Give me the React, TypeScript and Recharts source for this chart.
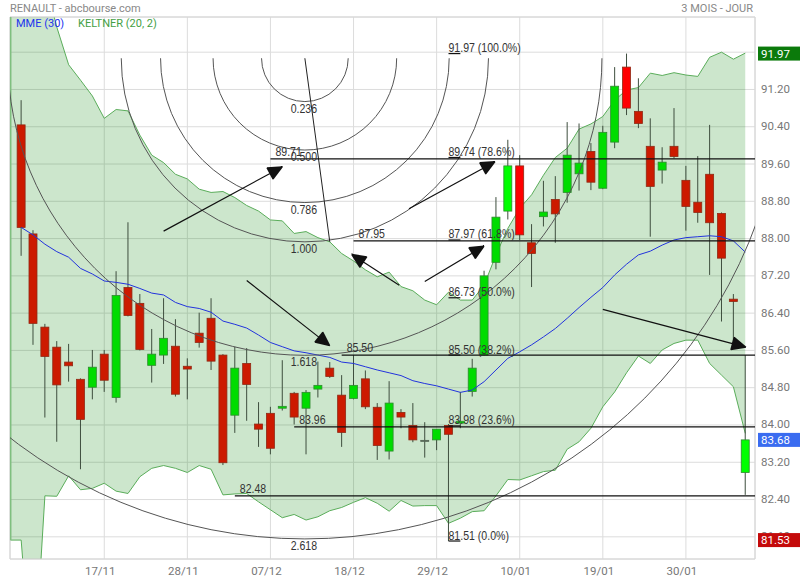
import React from 'react';
import {
  ComposedChart, XAxis, YAxis, CartesianGrid, Bar, Line, Area, Scatter,
  ReferenceLine, ReferenceArea,
} from 'recharts';

// ---------- data ----------
const DATE_TICKS = [7, 14, 21, 28, 35, 42, 49, 56];
const DATE_LABELS = ['17/11', '28/11', '07/12', '18/12', '29/12', '10/01', '19/01', '30/01'];
const PRICE_TICKS = [81.6, 82.4, 83.2, 84.0, 84.8, 85.6, 86.4, 87.2, 88.0, 88.8, 89.6, 90.4, 91.2, 92.0];

const OPEN = [90.44, 88.10, 86.10, 85.67, 85.35, 84.98, 84.81, 85.52, 84.59, 86.95, 86.61, 85.28, 85.50, 85.69, 85.26, 85.97, 86.29, 85.50, 84.21, 85.32, 84.02, 84.25, 84.36, 84.68, 84.36, 84.77, 85.22, 84.64, 84.57, 84.99, 84.38, 83.44, 84.27, 83.99, 83.67, 83.68, 83.99, 84.04, 84.72, 85.50, 87.49, 88.59, 89.56, 87.91, 88.47, 88.84, 88.99, 89.39, 89.87, 89.08, 90.07, 91.68, 90.73, 89.98, 89.47, 89.98, 89.25, 88.78, 89.38, 88.54, 86.70, 82.98];
const HIGH = [90.97, 88.18, 86.17, 85.80, 85.74, 85.00, 85.61, 85.61, 87.30, 88.35, 86.81, 86.06, 86.72, 86.27, 85.43, 86.41, 86.72, 85.52, 85.68, 85.65, 84.49, 84.39, 85.39, 84.71, 84.75, 85.36, 85.35, 85.07, 85.50, 85.17, 84.47, 84.94, 84.34, 84.47, 84.06, 83.91, 84.02, 84.71, 85.42, 87.31, 88.89, 90.12, 89.79, 88.31, 89.24, 89.34, 90.50, 90.47, 90.05, 90.42, 91.68, 91.97, 91.44, 90.58, 89.96, 90.80, 89.56, 89.77, 90.44, 88.56, 86.81, 85.50];
const LOW = [87.63, 85.72, 84.16, 83.64, 84.93, 83.05, 84.55, 84.71, 84.48, 86.33, 85.60, 84.91, 85.31, 84.61, 84.55, 85.66, 85.18, 83.14, 83.83, 84.09, 83.53, 83.37, 84.31, 84.01, 83.37, 84.59, 85.01, 83.53, 84.55, 84.34, 83.25, 83.26, 83.93, 83.63, 83.30, 83.46, 81.51, 83.93, 84.61, 85.49, 87.34, 88.41, 87.97, 86.96, 88.26, 87.91, 88.77, 89.03, 89.04, 89.06, 89.94, 90.65, 90.37, 88.04, 89.18, 89.72, 88.17, 88.34, 87.22, 86.22, 85.65, 82.50];
const CLOSE = [88.24, 86.18, 85.47, 84.86, 85.27, 84.12, 85.24, 84.96, 86.78, 86.35, 85.62, 85.52, 85.86, 84.66, 85.20, 85.77, 85.37, 83.19, 85.22, 84.87, 83.91, 83.50, 84.40, 84.17, 84.70, 84.85, 85.04, 83.84, 84.85, 84.39, 83.56, 84.47, 84.17, 83.68, 83.67, 83.91, 83.80, 84.08, 85.22, 87.20, 88.46, 89.56, 88.08, 87.68, 88.57, 88.53, 89.79, 89.62, 89.21, 90.28, 91.27, 90.80, 90.47, 89.12, 89.64, 89.76, 88.69, 88.56, 88.34, 87.58, 86.65, 83.68];

const EMA30 = [88.24, 88.08, 87.88, 87.72, 87.60, 87.36, 87.24, 87.09, 87.06, 87.02, 86.93, 86.83, 86.79, 86.63, 86.54, 86.50, 86.42, 86.23, 86.16, 86.08, 85.93, 85.77, 85.68, 85.59, 85.55, 85.50, 85.45, 85.35, 85.32, 85.25, 85.18, 85.12, 85.06, 84.95, 84.89, 84.84, 84.77, 84.70, 84.75, 84.93, 85.18, 85.43, 85.57, 85.72, 85.89, 86.07, 86.29, 86.52, 86.74, 86.95, 87.22, 87.45, 87.65, 87.73, 87.86, 87.97, 88.02, 88.04, 88.06, 88.04, 87.95, 87.71];

const KELTNER_UPPER = [95.0, 96.0, 93.55, 92.54, 91.73, 91.40, 91.06, 90.58, 90.77, 90.74, 90.22, 89.79, 89.63, 89.38, 89.28, 89.06, 88.99, 89.01, 88.88, 88.71, 88.59, 88.40, 88.38, 88.11, 88.15, 88.02, 87.93, 87.68, 87.52, 87.33, 87.18, 87.28, 86.97, 86.88, 86.68, 86.58, 86.85, 86.68, 86.68, 87.00, 87.65, 88.22, 88.65, 88.94, 89.36, 89.74, 89.94, 90.35, 90.46, 90.62, 90.97, 91.19, 91.24, 91.55, 91.50, 91.56, 91.51, 91.48, 91.89, 92.00, 91.85, 91.98];
const KELTNER_LOWER = [81.53, 78.31, 82.48, 82.47, 82.91, 82.61, 82.64, 82.75, 82.58, 82.53, 82.89, 83.07, 83.13, 83.07, 82.98, 83.13, 83.05, 82.50, 82.52, 82.53, 82.35, 82.18, 82.01, 82.08, 81.96, 82.03, 82.16, 82.23, 82.34, 82.44, 82.32, 82.15, 82.38, 82.26, 82.27, 82.27, 81.89, 82.00, 82.14, 82.16, 82.48, 82.83, 82.82, 82.91, 83.00, 83.03, 83.48, 83.64, 83.93, 84.39, 84.71, 85.12, 85.48, 85.32, 85.61, 85.75, 85.82, 85.82, 85.32, 85.07, 84.82, 83.82];

// horizontal support / resistance lines: start candle + value
const LEVEL_VALUES = [89.71, 87.95, 85.50, 83.96, 82.48];
const LEVEL_STARTS = [21, 28, 27, 23, 18];

// fibonacci retracement (anchored on candle 36 -> 37)
const FIB_VALUES = [91.97, 89.74, 87.97, 86.73, 85.50, 83.98, 81.51];
const FIB_PCTS = ['100.0%', '78.6%', '61.8%', '50.0%', '38.2%', '23.6%', '0.0%'];
const FIB_FROM = 36;
const FIB_TO = 37;

// fibonacci arcs: centre and reference point
const ARC_CENTER = { x: 23.9, y: 91.87 };
const ARC_END = { x: 26, y: 87.93 };
const ARC_RATIOS = [0.236, 0.5, 0.786, 1.0, 1.618, 2.618];
const ARC_LABELS = ['0.236', '0.500', '0.786', '1.000', '1.618', '2.618'];

// arrows: from (x1,y1) to tip (x2,y2)
const ARROWS = [
  { x1: 12, y1: 88.16, x2: 22, y2: 89.54 },
  { x1: 19, y1: 87.10, x2: 26, y2: 85.70 },
  { x1: 31.85, y1: 87.00, x2: 27.84, y2: 87.66 },
  { x1: 34, y1: 87.08, x2: 39, y2: 87.84 },
  { x1: 32.67, y1: 88.64, x2: 39.92, y2: 89.65 },
  { x1: 49, y1: 86.48, x2: 61.06, y2: 85.67 },
];

// right-axis value boxes
const BOX_VALUES = [91.97, 83.68, 81.53];

// ---------- layout / style ----------
const X_MIN = -0.94;
const X_MAX = 61.82;
const Y_MIN = 81.124;
const Y_MAX = 92.755;
const BRIGHT = new Set([41, 42, 51, 61]);
const BOX_COLORS = ['#0b7a0b', '#3a6cf0', '#c40a0a'];
const ARIAL = "'Liberation Sans', Arial, sans-serif";
const ROBOTO = "Roboto, 'Noto Sans', sans-serif";

// ---------- built tables ----------
const ROWS = OPEN.map((o, i) => ({
  x: i, open: o, high: HIGH[i], low: LOW[i], close: CLOSE[i],
  range: [LOW[i], HIGH[i]], ema: EMA30[i],
}));
const BAND_ROWS = [
  { x: X_MIN, band: [KELTNER_LOWER[0], KELTNER_UPPER[0]] },
  ...KELTNER_UPPER.map((u, i) => ({ x: i, band: [KELTNER_LOWER[i], u] })),
];
const ARC_ROWS = [ARC_CENTER, ARC_END];
const ARC_LABEL_ROWS = ARC_RATIOS.map((r, i) => ({
  x: ARC_CENTER.x, y: ARC_CENTER.y - r * (ARC_CENTER.y - ARC_END.y), text: ARC_LABELS[i],
}));
const LEVEL_LABEL_ROWS = LEVEL_VALUES.map((v, i) => ({ x: LEVEL_STARTS[i], y: v, text: v.toFixed(2) }));
const FIB_LABEL_ROWS = FIB_VALUES.map((v, i) => ({ x: FIB_FROM, y: v, text: `${v.toFixed(2)}\u00a0(${FIB_PCTS[i]})` }));

// ---------- custom curves (draw from library-scaled points) ----------
const arcCurve = (context: any) => {
  const pts: number[][] = [];
  return {
    areaStart() {}, areaEnd() {},
    lineStart() { pts.length = 0; },
    point(x: number, y: number) { pts.push([x, y]); },
    lineEnd() {
      if (pts.length < 2) return;
      const [cx, cy] = pts[0];
      const R = Math.abs(pts[1][1] - cy);
      ARC_RATIOS.forEach((k) => {
        const r = k * R;
        context.moveTo(cx - r, cy);
        context.arc(cx, cy, r, Math.PI, Math.PI / 2, true);
        context.arc(cx, cy, r, Math.PI / 2, 0, true);
      });
    },
  };
};

const arrowCurve = (context: any) => {
  const pts: number[][] = [];
  return {
    areaStart() {}, areaEnd() {},
    lineStart() { pts.length = 0; },
    point(x: number, y: number) { pts.push([x, y]); },
    lineEnd() {
      if (pts.length < 2) return;
      const [x1, y1] = pts[0];
      const [x2, y2] = pts[1];
      const len = Math.hypot(x2 - x1, y2 - y1) || 1;
      const ux = (x2 - x1) / len;
      const uy = (y2 - y1) / len;
      const nx = -uy;
      const ny = ux;
      const L = 14;
      const hw = 6.5;
      const bx = x2 - L * ux;
      const by = y2 - L * uy;
      context.moveTo(x1, y1);
      context.lineTo(bx, by);
      for (let t = -hw; t <= hw + 0.01; t += 0.8) {
        context.moveTo(x2, y2);
        context.lineTo(bx + t * nx, by + t * ny);
      }
      context.moveTo(bx - hw * nx, by - hw * ny);
      context.lineTo(bx + hw * nx, by + hw * ny);
    },
  };
};

// ---------- shapes ----------
const Candle = (props: any) => {
  const { x, y, width, height, payload } = props;
  if (payload == null || x == null) return null;
  const { open, close, high, low } = payload;
  const idx = payload.x;
  const top = height >= 0 ? y : y + height;
  const h = Math.abs(height);
  const k = h / (high - low);
  const cx = x + width / 2;
  const yOf = (v: number) => top + (high - v) * k;
  const bodyTop = yOf(Math.max(open, close));
  const bodyBot = yOf(Math.min(open, close));
  const bright = BRIGHT.has(idx);
  let fill = '#cc1a00';
  let stroke = '#8f2a14';
  if (close > open) {
    fill = bright ? '#00ff00' : '#00dc00';
    stroke = '#2e8b2e';
  } else if (close < open) {
    fill = bright ? '#ff0000' : '#cc1a00';
  } else {
    fill = '#556655';
    stroke = '#556655';
  }
  return (
    <g>
      <line x1={cx} x2={cx} y1={top} y2={top + h} stroke="#3e4e3e" strokeWidth={1} />
      <rect x={cx - 4} y={bodyTop} width={8} height={Math.max(bodyBot - bodyTop, 1)} fill={fill} stroke={stroke} strokeWidth={0.8} />
    </g>
  );
};

const textShape = (dx: number, dy: number, anchor: string) => (p: any) => (
  <text
    transform={`translate(${p.cx + dx} ${p.cy + dy}) scale(0.88 1)`}
    x={0} y={0} textAnchor={anchor} fill="#333" fontSize={12} fontFamily={ARIAL}
  >
    {p.payload.text}
  </text>
);

const XTick = (p: any) => {
  const i = DATE_TICKS.indexOf(p.payload.value);
  return (
    <text x={p.x - 4} y={p.y + 16} textAnchor="middle" fill="#777" fontSize={11.5} fontFamily={ROBOTO}>
      {i >= 0 ? DATE_LABELS[i] : ''}
    </text>
  );
};

const YTick = (p: any) => {
  const v = p.payload.value;
  if (v >= 91.99) return null;
  return (
    <text x={p.x + 6} y={p.y + 3.5} textAnchor="start" fill="#777" fontSize={11.5} fontFamily={ROBOTO}>
      {Number(v).toFixed(2)}
    </text>
  );
};

const BoxTick = (p: any) => {
  const v = p.payload.value;
  const i = BOX_VALUES.indexOf(v);
  return (
    <g>
      <rect x={p.x - 41} y={p.y - 7} width={42} height={14} fill={BOX_COLORS[i] || '#888'} />
      <text x={p.x - 38} y={p.y + 4.2} fill="#fff" fontSize={11.5} fontFamily={ROBOTO}>{Number(v).toFixed(2)}</text>
    </g>
  );
};

export default function App() {
  return (
    <div style={{ position: 'absolute', left: 0, top: 0, width: 800, height: 580, background: '#fff' }}>
      <ComposedChart width={800} height={580} data={ROWS} margin={{ top: 17, right: 0, bottom: 0, left: 10 }}>
        <CartesianGrid stroke="#dcdcdc" strokeWidth={1} />
        <XAxis
          dataKey="x" type="number" domain={[X_MIN, X_MAX]} ticks={DATE_TICKS} allowDataOverflow
          axisLine={false} tickLine={false} tickSize={0} tickMargin={0} height={21} tick={XTick} interval={0}
        />
        <YAxis
          orientation="right" type="number" domain={[Y_MIN, Y_MAX]} ticks={PRICE_TICKS} allowDataOverflow
          axisLine={false} tickLine={false} tickSize={0} tickMargin={0} width={44} tick={YTick} interval={0}
        />
        <YAxis
          yAxisId="boxes" orientation="right" type="number" domain={[Y_MIN, Y_MAX]} ticks={BOX_VALUES} allowDataOverflow
          axisLine={false} tickLine={false} tickSize={0} tickMargin={0} width={1} tick={BoxTick} interval={0}
        />
        <Area
          data={BAND_ROWS} dataKey="band" type="linear" stroke="#5aad5a" strokeWidth={1}
          fill="#008000" fillOpacity={0.2} isAnimationActive={false} dot={false} activeDot={false}
        />
        <ReferenceLine
          segment={[{ x: X_MIN + 0.06, y: KELTNER_LOWER[0] }, { x: X_MIN + 0.06, y: Y_MAX }]}
          stroke="#7fbf7f" strokeWidth={1.5}
        />
        <ReferenceArea x1={X_MIN} x2={X_MAX} y1={Y_MIN} y2={Y_MAX} fill="none" fillOpacity={0} stroke="#d6d6d6" strokeWidth={1} />
        <Bar dataKey="range" barSize={9} shape={Candle} isAnimationActive={false} />
        <Line dataKey="ema" type="linear" stroke="#2233dd" strokeWidth={1} dot={false} activeDot={false} isAnimationActive={false} />

        {/* fibonacci arcs */}
        <Line data={ARC_ROWS} dataKey="y" type={arcCurve as any} stroke="#555" strokeWidth={1} dot={false} activeDot={false} isAnimationActive={false} />
        <Line data={ARC_ROWS} dataKey="y" type="linear" stroke="#222" strokeWidth={1} dot={false} activeDot={false} isAnimationActive={false} />

        {/* arrows */}
        {ARROWS.map((a, i) => (
          <Line
            key={`arrow-${i}`}
            data={[{ x: a.x1, y: a.y1 }, { x: a.x2, y: a.y2 }]}
            dataKey="y" type={arrowCurve as any} stroke="#111" strokeWidth={1.2}
            dot={false} activeDot={false} isAnimationActive={false}
          />
        ))}

        {/* horizontal levels */}
        {LEVEL_VALUES.map((v, i) => (
          <ReferenceLine key={`lvl-${i}`} segment={[{ x: LEVEL_STARTS[i], y: v }, { x: X_MAX, y: v }]} stroke="#111" strokeWidth={1.2} />
        ))}
        {FIB_VALUES.map((v, i) => (
          <ReferenceLine key={`fib-${i}`} segment={[{ x: FIB_FROM, y: v }, { x: FIB_TO, y: v }]} stroke="#111" strokeWidth={1.2} />
        ))}

        <Scatter data={LEVEL_LABEL_ROWS} dataKey="y" shape={textShape(5, -3, 'start')} isAnimationActive={false} />
        <Scatter data={FIB_LABEL_ROWS} dataKey="y" shape={textShape(0, -1.5, 'start')} isAnimationActive={false} />
        <Scatter data={ARC_LABEL_ROWS} dataKey="y" shape={textShape(-1, 11, 'middle')} isAnimationActive={false} />
      </ComposedChart>

      <div style={{ position: 'absolute', left: 10, top: 2, font: `11px ${ROBOTO}`, color: '#888', whiteSpace: 'nowrap' }}>
        RENAULT - abcbourse.com
      </div>
      <div style={{ position: 'absolute', right: 47, top: 2, font: `11px ${ROBOTO}`, color: '#888', whiteSpace: 'nowrap' }}>
        3 MOIS - JOUR
      </div>
      <div style={{ position: 'absolute', left: 16, top: 17, font: `11px ${ROBOTO}`, color: '#2233ee', whiteSpace: 'nowrap' }}>
        MME (30)
      </div>
      <div style={{ position: 'absolute', left: 78, top: 17, font: `11px ${ROBOTO}`, color: '#44a044', whiteSpace: 'nowrap' }}>
        KELTNER (20, 2)
      </div>
    </div>
  );
}
